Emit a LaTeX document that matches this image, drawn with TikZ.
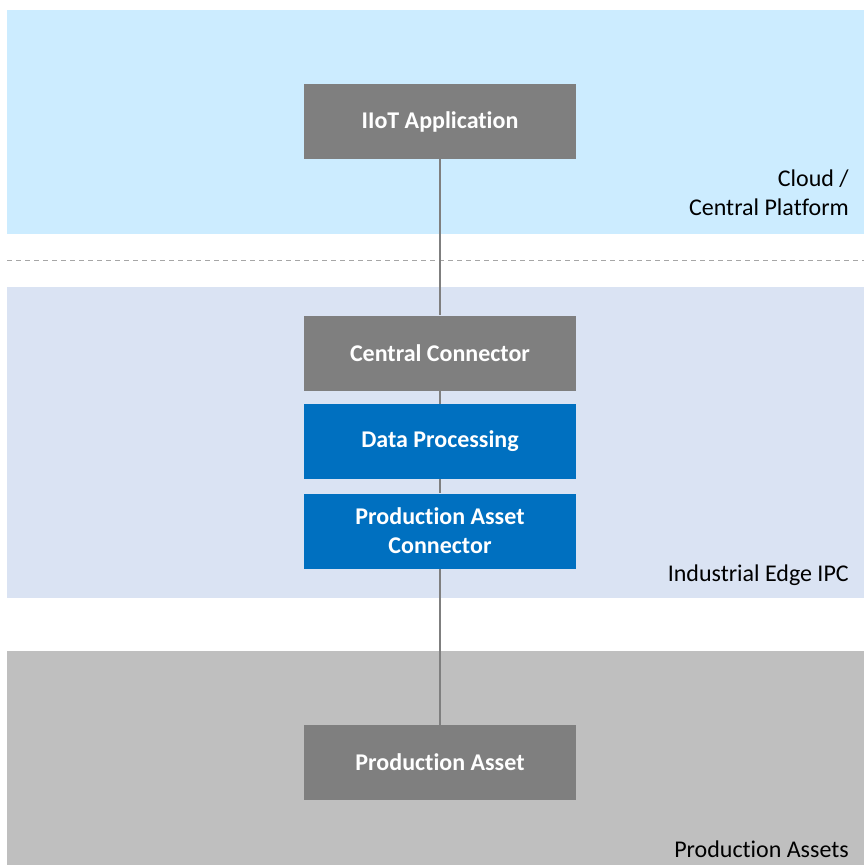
\documentclass[tikz,border=0pt]{standalone}
\usepackage{fontspec}
\setmainfont[Ligatures=NoCommon]{Carlito}
\pgfdeclarelayer{bands}
\pgfdeclarelayer{links}
\pgfsetlayers{bands,links,main}
\definecolor{cloudband}{HTML}{CCECFF}
\definecolor{edgeband}{HTML}{DAE3F3}
\definecolor{assetband}{HTML}{BFBFBF}
\definecolor{greybox}{HTML}{7F7F7F}
\definecolor{bluebox}{HTML}{0070C0}
\definecolor{sepline}{HTML}{A6A6A6}
\tikzset{
  x=1pt, y=-1pt,
  block/.style={minimum width=272pt, minimum height=75pt, inner sep=0pt,
    text=white, align=center, font=\fontsize{24}{29}\selectfont\bfseries},
  greyblock/.style={block, fill=greybox},
  blueblock/.style={block, fill=bluebox},
  zonelabel/.style={anchor=base east, align=right, text=black,
    font=\fontsize{24}{29}\selectfont, inner sep=0pt},
  link/.style={draw=greybox, line width=2pt}
}
\begin{document}
\begin{tikzpicture}
  \useasboundingbox (0,0) rectangle (864,865);

  % zones
  \begin{pgfonlayer}{bands}
    \fill[white] (0,0) rectangle (864,865);
    \fill[cloudband] (7,10) rectangle (864,234);
    \fill[edgeband] (7,287) rectangle (864,598);
    \fill[assetband] (7,651) rectangle (864,865);
    \draw[sepline, line width=1pt, dash pattern=on 5pt off 4pt] (7,260) -- (864,260);
  \end{pgfonlayer}

  % blocks
  \node[greyblock] (app) at (440,121.5) {IIoT Application};
  \node[greyblock] (cc)  at (440,353) {Central Connector};
  \node[blueblock] (dp)  at (440,441.5) {Data Processing};
  \node[blueblock] (pac) at (440,531) {Production Asset\\Connector};
  \node[greyblock] (pa)  at (440,762.5) {Production Asset};

  % zone labels
  \node[zonelabel] (cloudlbl) at (849,215) {Cloud /\\Central Platform};
  \node[zonelabel] (edgelbl) at (849,581) {Industrial Edge IPC};
  \node[zonelabel] (assetlbl) at (849,857) {Production Assets};

  % vertical links
  \begin{pgfonlayer}{links}
    \draw[link] (app.south) -- (cc.north);
    \draw[link] (cc.south) -- (dp.north);
    \draw[link] (dp.south) -- (pac.north);
    \draw[link] (pac.south) -- (pa.north);
  \end{pgfonlayer}
\end{tikzpicture}
\end{document}
